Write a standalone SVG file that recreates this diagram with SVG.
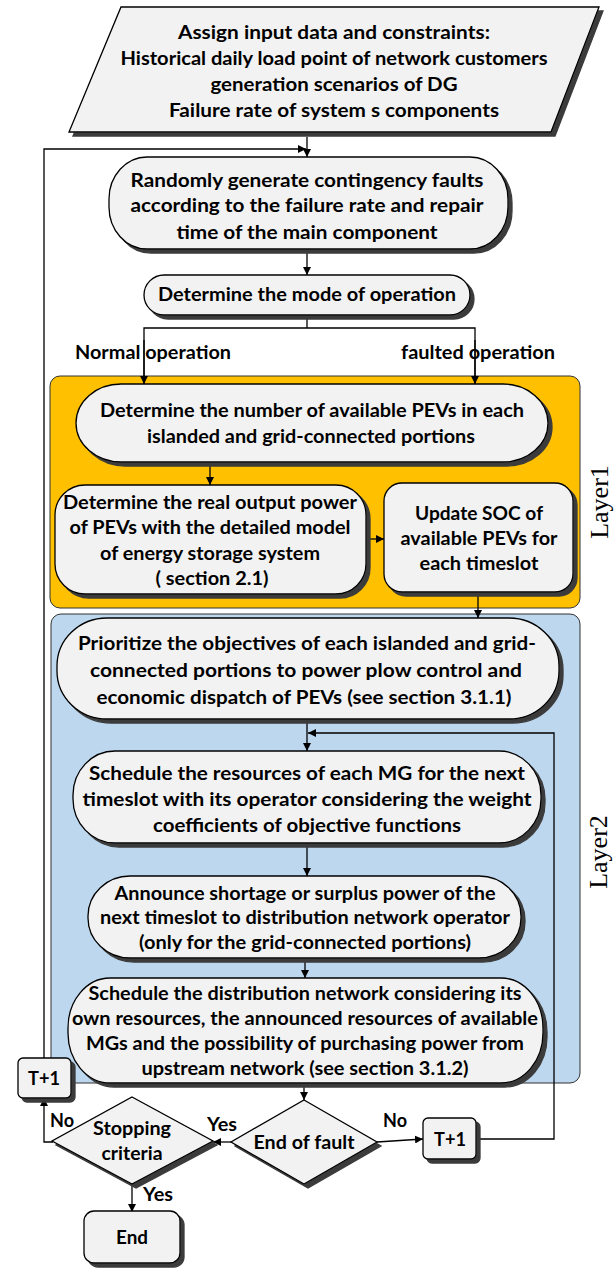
<svg xmlns="http://www.w3.org/2000/svg" width="615" height="1270" viewBox="0 0 615 1270">
<defs>
<marker id="ah" viewBox="0 0 10 10" refX="10" refY="5" markerWidth="8" markerHeight="8" markerUnits="userSpaceOnUse" orient="auto">
<path d="M0,0 L10,5 L0,10 z" fill="#000"/>
</marker>
<filter id="sh" x="-10%" y="-10%" width="130%" height="140%">
<feDropShadow dx="4" dy="4" stdDeviation="0.6" flood-color="#3a3a3a" flood-opacity="1"/>
</filter>
</defs>
<style>
.n{fill:#F2F2F2;stroke:#000;stroke-width:1.3;filter:url(#sh)}
.t{font-family:Lato,"Open Sans","Liberation Sans",sans-serif;font-weight:bold;font-size:18px;fill:#000;text-anchor:middle}
.lb{font-family:Lato,"Open Sans","Liberation Sans",sans-serif;font-weight:bold;font-size:18px;fill:#000}
.c{fill:none;stroke:#000;stroke-width:1.3}
.ly{font-family:"Liberation Serif",serif;font-size:26px;fill:#000;text-anchor:middle}
</style>
<g id="layer1">
<rect x="50" y="376" width="530" height="232" rx="10" fill="#FFC000" stroke="#333" stroke-width="1"/>
<text class="ly" transform="translate(608,502) rotate(-90)">Layer1</text>
</g>
<g id="layer2">
<rect x="51" y="614" width="529" height="469" rx="10" fill="#BDD7EE" stroke="#333" stroke-width="1"/>
<text class="ly" transform="translate(607,852) rotate(-90)">Layer2</text>
</g>
<g id="connectors">
<line class="c" x1="307" y1="137" x2="307" y2="157" marker-end="url(#ah)"/>
<polyline class="c" points="44,1058 44,149 306,149" marker-end="url(#ah)"/>
<line class="c" x1="307" y1="253" x2="307" y2="275" marker-end="url(#ah)"/>
<polyline class="c" points="307,319 307,328"/>
<polyline class="c" points="144,384 144,328 475,328 475,384"/>
<line class="c" x1="144" y1="340" x2="144" y2="384" marker-end="url(#ah)"/>
<line class="c" x1="475" y1="340" x2="475" y2="384" marker-end="url(#ah)"/>
<line class="c" x1="210" y1="466" x2="210" y2="485" marker-end="url(#ah)"/>
<line class="c" x1="370" y1="539" x2="384" y2="539" marker-end="url(#ah)"/>
<line class="c" x1="478" y1="596" x2="478" y2="618" marker-end="url(#ah)"/>
<line class="c" x1="307" y1="723" x2="307" y2="751" marker-end="url(#ah)"/>
<polyline class="c" points="479,1139 554,1139 554,733 308,733" marker-end="url(#ah)"/>
<line class="c" x1="307" y1="847" x2="307" y2="876" marker-end="url(#ah)"/>
<line class="c" x1="305" y1="962" x2="305" y2="978" marker-end="url(#ah)"/>
<line class="c" x1="304" y1="1087" x2="304" y2="1100" marker-end="url(#ah)"/>
<line class="c" x1="231" y1="1142" x2="213" y2="1142" marker-end="url(#ah)"/>
<polyline class="c" points="53,1142 44,1142 44,1098" marker-end="url(#ah)"/>
<line class="c" x1="132" y1="1184" x2="132" y2="1212" marker-end="url(#ah)"/>
<line class="c" x1="377" y1="1142" x2="423" y2="1139" marker-end="url(#ah)"/>
<text class="lb" x="75" y="359" textLength="156" lengthAdjust="spacingAndGlyphs">Normal operation</text>
<text class="lb" x="401" y="359" textLength="154" lengthAdjust="spacingAndGlyphs">faulted operation</text>
<text class="lb" x="207" y="1131" textLength="30" lengthAdjust="spacingAndGlyphs">Yes</text>
<text class="lb" x="383" y="1127" textLength="24" lengthAdjust="spacingAndGlyphs">No</text>
<text class="lb" x="50" y="1127" textLength="24" lengthAdjust="spacingAndGlyphs">No</text>
<text class="lb" x="143" y="1201" textLength="30" lengthAdjust="spacingAndGlyphs">Yes</text>
</g>
<g id="input">
<polygon class="n" points="121,7 599,7 551,132 69,132"/>
<text class="t" x="334" y="39" textLength="312" lengthAdjust="spacingAndGlyphs">Assign input data and constraints:</text>
<text class="t" x="334" y="65" textLength="427" lengthAdjust="spacingAndGlyphs">Historical daily load point of network customers</text>
<text class="t" x="334" y="91" textLength="247" lengthAdjust="spacingAndGlyphs">generation scenarios of DG</text>
<text class="t" x="334" y="117" textLength="330" lengthAdjust="spacingAndGlyphs">Failure rate of system s components</text>
</g>
<g id="generate">
<rect class="n" x="109" y="157" width="399" height="92" rx="38" ry="42"/>
<text class="t" x="307" y="187" textLength="353" lengthAdjust="spacingAndGlyphs">Randomly generate contingency faults</text>
<text class="t" x="307" y="212" textLength="353" lengthAdjust="spacingAndGlyphs">according to the failure rate and repair</text>
<text class="t" x="307" y="239" textLength="261" lengthAdjust="spacingAndGlyphs">time of the main component</text>
</g>
<g id="mode">
<rect class="n" x="144" y="275" width="326" height="40" rx="20"/>
<text class="t" x="307" y="301" textLength="298" lengthAdjust="spacingAndGlyphs">Determine the mode of operation</text>
</g>
<g id="pevs">
<rect class="n" x="76" y="384" width="472" height="78" rx="45" ry="39"/>
<text class="t" x="312" y="417" textLength="424" lengthAdjust="spacingAndGlyphs">Determine the number of available PEVs in each</text>
<text class="t" x="311" y="443" textLength="328" lengthAdjust="spacingAndGlyphs">islanded and grid-connected portions</text>
</g>
<g id="realpower">
<rect class="n" x="55" y="485" width="311" height="109" rx="30"/>
<text class="t" x="210" y="509" textLength="294" lengthAdjust="spacingAndGlyphs">Determine the real output power</text>
<text class="t" x="210" y="534" textLength="281" lengthAdjust="spacingAndGlyphs">of PEVs with the detailed model</text>
<text class="t" x="210" y="560" textLength="220" lengthAdjust="spacingAndGlyphs">of energy storage system</text>
<text class="t" x="212" y="585" textLength="113" lengthAdjust="spacingAndGlyphs">( section 2.1)</text>
</g>
<g id="soc">
<rect class="n" x="384" y="483" width="189" height="109" rx="18"/>
<text class="t" x="479" y="520" textLength="128" lengthAdjust="spacingAndGlyphs">Update SOC of</text>
<text class="t" x="479" y="545" textLength="157" lengthAdjust="spacingAndGlyphs">available PEVs for</text>
<text class="t" x="479" y="570" textLength="119" lengthAdjust="spacingAndGlyphs">each timeslot</text>
</g>
<g id="prioritize">
<rect class="n" x="57" y="618" width="502" height="101" rx="50" ry="48"/>
<text class="t" x="307" y="650" textLength="458" lengthAdjust="spacingAndGlyphs">Prioritize the objectives of each islanded and grid-</text>
<text class="t" x="306" y="677" textLength="432" lengthAdjust="spacingAndGlyphs">connected portions to power plow control  and</text>
<text class="t" x="304" y="704" textLength="415" lengthAdjust="spacingAndGlyphs">economic dispatch of PEVs (see section 3.1.1)</text>
</g>
<g id="schedulemg">
<rect class="n" x="73" y="751" width="468" height="92" rx="42" ry="44"/>
<text class="t" x="307" y="780" textLength="436" lengthAdjust="spacingAndGlyphs">Schedule the resources of each MG for the next</text>
<text class="t" x="307" y="806" textLength="449" lengthAdjust="spacingAndGlyphs">timeslot with its operator considering the weight</text>
<text class="t" x="307" y="832" textLength="308" lengthAdjust="spacingAndGlyphs">coefficients of objective functions</text>
</g>
<g id="announce">
<rect class="n" x="88" y="876" width="433" height="82" rx="42" ry="40"/>
<text class="t" x="305" y="900" textLength="381" lengthAdjust="spacingAndGlyphs">Announce shortage or surplus power of the</text>
<text class="t" x="305" y="924" textLength="410" lengthAdjust="spacingAndGlyphs">next timeslot to distribution network operator</text>
<text class="t" x="305" y="949" textLength="332" lengthAdjust="spacingAndGlyphs">(only for the grid-connected portions)</text>
</g>
<g id="scheduledn">
<rect class="n" x="68" y="978" width="475" height="105" rx="42" ry="50"/>
<text class="t" x="305" y="1000" textLength="433" lengthAdjust="spacingAndGlyphs">Schedule the distribution network considering its</text>
<text class="t" x="305" y="1025" textLength="466" lengthAdjust="spacingAndGlyphs">own resources, the announced resources of available</text>
<text class="t" x="305" y="1050" textLength="438" lengthAdjust="spacingAndGlyphs">MGs and the possibility of purchasing power from</text>
<text class="t" x="305" y="1075" textLength="327" lengthAdjust="spacingAndGlyphs">upstream network (see section 3.1.2)</text>
</g>
<g id="endfault">
<polygon class="n" points="304,1100 377,1142 304,1184 231,1142"/>
<text class="t" x="304" y="1149" textLength="101" lengthAdjust="spacingAndGlyphs">End of fault</text>
</g>
<g id="stopping">
<polygon class="n" points="132,1097 213,1141 132,1184 52,1141"/>
<text class="t" x="132" y="1135" textLength="78" lengthAdjust="spacingAndGlyphs">Stopping</text>
<text class="t" x="132" y="1160" textLength="61" lengthAdjust="spacingAndGlyphs">criteria</text>
</g>
<g id="t1left">
<rect class="n" x="18" y="1058" width="53" height="40" rx="5"/>
<text class="t" x="44" y="1085" textLength="32" lengthAdjust="spacingAndGlyphs">T+1</text>
</g>
<g id="t1right">
<rect class="n" x="423" y="1118" width="53" height="41" rx="5"/>
<text class="t" x="450" y="1146" textLength="32" lengthAdjust="spacingAndGlyphs">T+1</text>
</g>
<g id="end">
<rect class="n" x="84" y="1211" width="96" height="52" rx="10"/>
<text class="t" x="132" y="1244" textLength="32" lengthAdjust="spacingAndGlyphs">End</text>
</g>
</svg>
